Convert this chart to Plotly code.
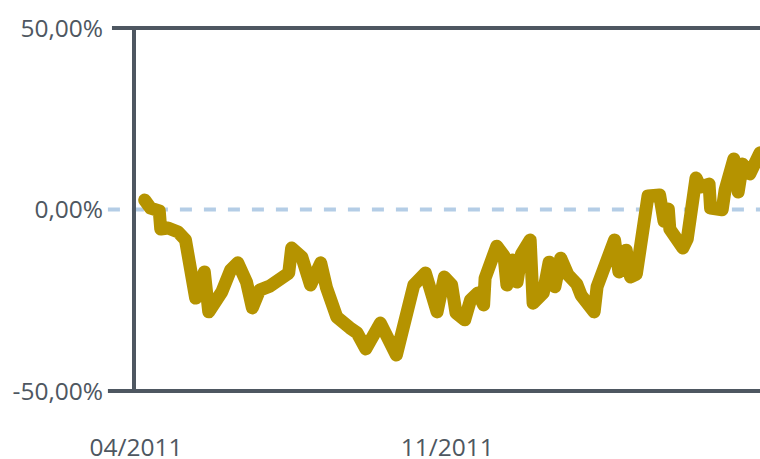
import plotly.graph_objects as go

# ---- data ----
dates = [
    "2011-04-07", "2011-04-11", "2011-04-17", "2011-04-18", "2011-04-23", "2011-04-30",
    "2011-05-05", "2011-05-12", "2011-05-18", "2011-05-21", "2011-05-30", "2011-06-05",
    "2011-06-10", "2011-06-16", "2011-06-20", "2011-06-25", "2011-07-02", "2011-07-10",
    "2011-07-15", "2011-07-17", "2011-07-24", "2011-07-30", "2011-08-06", "2011-08-10",
    "2011-08-17", "2011-08-26", "2011-08-31", "2011-09-06", "2011-09-16", "2011-09-27",
    "2011-10-09", "2011-10-17", "2011-10-22", "2011-10-25", "2011-10-30", "2011-11-04",
    "2011-11-07", "2011-11-13", "2011-11-17", "2011-11-22", "2011-11-26", "2011-11-27",
    "2011-12-05", "2011-12-10", "2011-12-12", "2011-12-16", "2011-12-19", "2011-12-22",
    "2011-12-28", "2011-12-30", "2012-01-06", "2012-01-10", "2012-01-14", "2012-01-18",
    "2012-01-23", "2012-01-29", "2012-02-01", "2012-02-10", "2012-02-12", "2012-02-17",
    "2012-02-24", "2012-02-27", "2012-03-03", "2012-03-06", "2012-03-10", "2012-03-18",
    "2012-03-26", "2012-03-29", "2012-04-01", "2012-04-02", "2012-04-11", "2012-04-14",
    "2012-04-20", "2012-04-23", "2012-04-29", "2012-04-30", "2012-05-08", "2012-05-10",
    "2012-05-16", "2012-05-19", "2012-05-22", "2012-05-27", "2012-05-30", "2012-06-03",
]
performance = [
    2.6, 0.4, -0.4, -5.4, -5.1, -6.2,
    -8.4, -24.4, -17.2, -28.2, -22.7, -16.7,
    -14.7, -20.0, -27.1, -22.2, -21.1, -18.6,
    -17.5, -10.6, -13.1, -20.8, -14.7, -21.6,
    -29.6, -32.6, -34.0, -38.4, -31.3, -40.1,
    -20.8, -17.5, -26.3, -28.2, -18.6, -20.8,
    -28.5, -30.4, -24.9, -23.0, -26.3, -18.9,
    -10.1, -12.8, -20.8, -13.9, -20.0, -12.3,
    -8.4, -25.8, -23.0, -14.5, -21.3, -13.4,
    -18.0, -20.5, -23.6, -28.2, -21.3, -15.6,
    -8.4, -17.2, -11.2, -18.6, -17.8, 3.7,
    4.0, -3.2, 0.1, -5.4, -10.6, -8.1,
    8.7, 6.2, 7.0, 0.4, -0.1, 5.4,
    13.9, 4.8, 12.5, 9.8, 12.8, 15.6,
]

y_tick_values = [-50, 0, 50]
y_tick_labels = ["-50,00%", "0,00%", "50,00%"]
x_tick_values = ["2011-04-01", "2011-11-01"]
x_tick_labels = ["04/2011", "11/2011"]
x_range = ["2011-04-01", "2012-06-03"]
y_range = [-50, 50]

# ---- styles ----
LINE_COLOR = "#B59300"
AXIS_COLOR = "#4E5761"
TEXT_COLOR = "#4E5761"
ZERO_COLOR = "#B4CDE6"
FONT = "Open Sans, sans-serif"
FONT_SIZE = 24.5

fig = go.Figure()
fig.add_trace(go.Scatter(
    x=dates, y=performance, mode="lines",
    line=dict(color=LINE_COLOR, width=13),
    hoverinfo="skip", showlegend=False,
))

zero_frac = (0 - y_range[0]) / (y_range[1] - y_range[0])
fig.update_layout(
    width=760, height=459,
    margin=dict(l=136, r=0, t=28, b=68),
    paper_bgcolor="white", plot_bgcolor="white",
    font=dict(family=FONT, size=FONT_SIZE, color=TEXT_COLOR),
    showlegend=False,
    xaxis=dict(
        type="date", range=x_range, automargin=False,
        tickvals=x_tick_values, ticktext=x_tick_labels,
        showgrid=False, zeroline=False, showline=False,
        ticks="outside", ticklen=35, tickcolor="rgba(0,0,0,0)",
        tickfont=dict(family=FONT, size=FONT_SIZE, color=TEXT_COLOR),
    ),
    yaxis=dict(
        range=y_range, automargin=False,
        tickvals=y_tick_values, ticktext=y_tick_labels,
        showgrid=False, zeroline=False,
        showline=True, linecolor=AXIS_COLOR, linewidth=4,
        ticks="outside", ticklen=24, tickcolor="rgba(0,0,0,0)",
        tickfont=dict(family=FONT, size=FONT_SIZE, color=TEXT_COLOR),
    ),
    shapes=[
        dict(type="line", xref="paper", yref="paper", x0=-0.045, x1=1,
             y0=zero_frac, y1=zero_frac, layer="below",
             line=dict(color=ZERO_COLOR, width=4, dash="12px,12px")),
        dict(type="line", xref="paper", yref="paper", x0=-0.0385, x1=1,
             y0=1, y1=1, layer="above",
             line=dict(color=AXIS_COLOR, width=4)),
        dict(type="line", xref="paper", yref="paper", x0=-0.045, x1=1,
             y0=0, y1=0, layer="above",
             line=dict(color=AXIS_COLOR, width=4)),
    ],
)

post_js = """
document.body.style.margin = '0';
document.body.style.padding = '0';
document.body.style.overflow = 'hidden';
document.querySelectorAll('.scatterlayer path.js-line').forEach(function(p){
  p.style.strokeLinejoin = 'round';
  p.style.strokeLinecap = 'round';
});
"""

fig.write_html("out.html", config={"displayModeBar": False}, post_script=post_js)
